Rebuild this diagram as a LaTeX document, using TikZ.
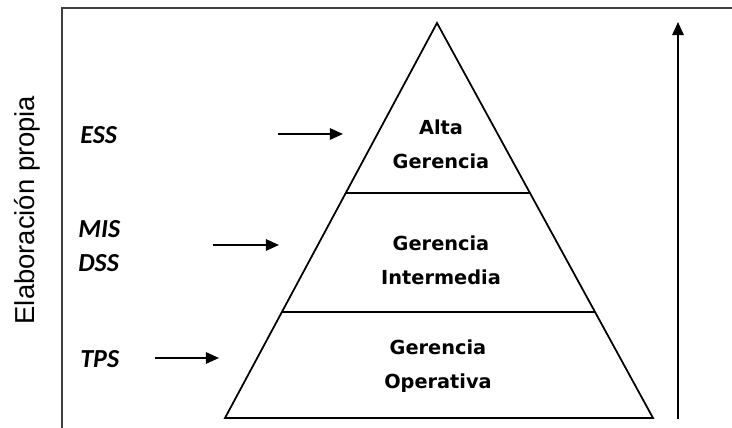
\documentclass[tikz,border=0pt]{standalone}
\usepackage{fontspec}
\setmainfont{DejaVu Sans}
\newfontfamily\sysfont{Carlito}
\newfontfamily\notefont{Liberation Sans}
\usetikzlibrary{calc}
\usetikzlibrary{arrows.meta}

\begin{document}
\begin{tikzpicture}[x=0.2mm,y=-0.2mm]
    \tikzstyle{level}=[font=\fontsize{11}{19.3}\selectfont\bfseries,align=center,inner sep=0pt]
    \tikzstyle{system}=[font=\sysfont\fontsize{14.8}{16}\selectfont\bfseries\itshape,anchor=west,inner sep=0pt]
    \tikzstyle{pointer}=[line width=1.1pt,-{Triangle[length=7.5pt,width=6.5pt]}]
    \useasboundingbox (0,0) rectangle (732,428);

    % frame
    \draw[line width=0.8pt,black!75] (62,428) -- (62,8) -- (732,8);
    \node[rotate=90,font=\notefont\fontsize{15.6}{18}\selectfont] (note) at (27,210) {Elaboración propia};

    % pyramid corners
    \coordinate (apex) at (437,23);
    \coordinate (bl) at (225,418);
    \coordinate (br) at (653,418);
    \draw[line width=1pt] (apex) -- (bl) -- (br) -- cycle;

    % level borders
    \draw[line width=1pt] ($(apex)!0.43!(bl)$) -- ($(apex)!0.43!(br)$);
    \draw[line width=1pt] ($(apex)!0.732!(bl)$) -- ($(apex)!0.732!(br)$);

    % level labels
    \node[level] (alta) at (441,144) {Alta\\Gerencia};
    \node[level] (inter) at (441,260) {Gerencia\\Intermedia};
    \node[level] (oper) at (438,366) {Gerencia\\Operativa};

    % systems
    \node[system] (ess) at (80,135) {ESS};
    \node[system] (mis) at (78,229) {MIS};
    \node[system] (dss) at (78,263) {DSS};
    \node[system] (tps) at (80,359) {TPS};

    % arrows to the levels
    \coordinate (ess-from) at (278,134);
    \coordinate (ess-to) at (343,134);
    \coordinate (mis-from) at (213,245);
    \coordinate (mis-to) at (279,245);
    \coordinate (tps-from) at (155,358);
    \coordinate (tps-to) at (219,358);
    \draw[pointer] (ess-from) -- (ess-to);
    \draw[pointer] (mis-from) -- (mis-to);
    \draw[pointer] (tps-from) -- (tps-to);

    % vertical arrow
    \coordinate (up-from) at (678,419);
    \coordinate (up-to) at (678,22);
    \draw[pointer] (up-from) -- (up-to);
\end{tikzpicture}
\end{document}
